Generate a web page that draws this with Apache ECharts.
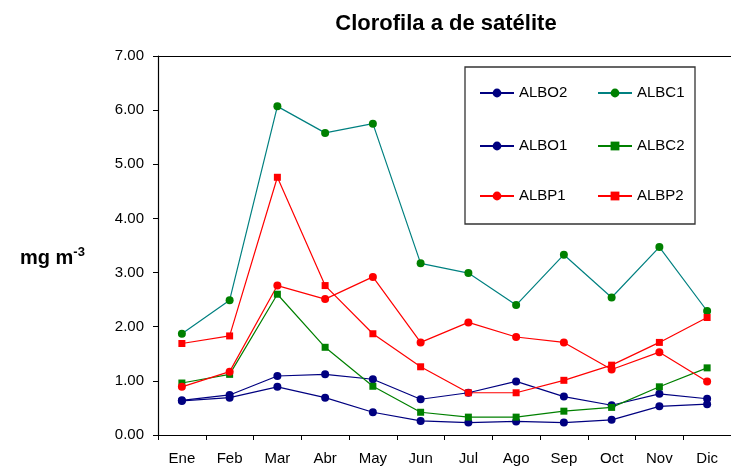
<!DOCTYPE html>
<html>
<head>
<meta charset="utf-8">
<script src="https://cdn.jsdelivr.net/npm/echarts@6/dist/echarts.min.js"></script>
<style>
html,body{margin:0;padding:0;background:#fff;}
#chart{width:731px;height:466px;}
</style>
</head>
<body>
<div id="chart"></div>
<script>
var months = ['Ene','Feb','Mar','Abr','May','Jun','Jul','Ago','Sep','Oct','Nov','Dic'];
var yTicks = [0,1,2,3,4,5,6,7];
var ALBO2 = [0.64,0.74,1.09,1.12,1.03,0.66,0.78,0.99,0.71,0.55,0.76,0.67];
var ALBO1 = [0.63,0.69,0.89,0.69,0.42,0.26,0.23,0.25,0.23,0.28,0.53,0.57];
var ALBC1 = [1.87,2.49,6.07,5.58,5.75,3.17,2.99,2.40,3.33,2.54,3.47,2.29];
var ALBC2 = [0.96,1.12,2.60,1.62,0.90,0.42,0.33,0.33,0.44,0.51,0.89,1.24];
var ALBP1 = [0.89,1.17,2.76,2.51,2.92,1.71,2.08,1.81,1.71,1.21,1.53,0.99];
var ALBP2 = [1.69,1.83,4.76,2.76,1.87,1.26,0.78,0.78,1.01,1.29,1.71,2.17];

var FONT = 'Liberation Sans, Arial, sans-serif';
var chart = echarts.init(document.getElementById('chart'), null, {renderer:'canvas'});

function mk(name, data, symbol, lineColor, markColor, size) {
  return {
    name: name, type: 'line', data: data, symbol: symbol, symbolSize: size,
    lineStyle: {color: lineColor, width: 1.2},
    itemStyle: {color: markColor},
    animation: false
  };
}
function legend(items, top) {
  return {
    data: items, left: 479, top: top, orient: 'horizontal',
    itemWidth: 34, itemHeight: 11, itemGap: 26, padding: 0,
    textStyle: {fontFamily: FONT, fontSize: 15, color: '#000', width: 52, lineHeight: 16}
  };
}

chart.setOption({
  backgroundColor: '#fff',
  animation: false,
  title: [
    {text: 'Clorofila a de satélite', left: 441, top: 8, textAlign: 'center',
     textStyle: {fontFamily: FONT, fontSize: 22, fontWeight: 'bold', color: '#000'}},
    {text: '{a|mg m}{b|-3}', left: 15, top: 241,
     textStyle: {rich: {
       a: {fontFamily: FONT, fontSize: 20, fontWeight: 'bold', color: '#000', lineHeight: 24},
       b: {fontFamily: FONT, fontSize: 13, fontWeight: 'bold', color: '#000', verticalAlign: 'top', lineHeight: 12}
     }}}
  ],
  legend: [legend(['ALBO2','ALBC1'], 85), legend(['ALBO1','ALBC2'], 138), legend(['ALBP1','ALBP2'], 188)],
  grid: {left: 158, top: 56, width: 580, height: 381, containLabel: false},
  xAxis: [{
    type: 'category', data: months, boundaryGap: true,
    axisLine: {lineStyle: {color: '#000', width: 1.2}},
    axisTick: {show: true, length: 5, lineStyle: {color: '#000'}},
    axisLabel: {fontFamily: FONT, fontSize: 15, color: '#000', margin: 16},
    splitLine: {show: false}
  }, {
    type: 'category', data: months, position: 'top',
    axisLine: {show: true, lineStyle: {color: '#000', width: 1.2}},
    axisTick: {show: false}, axisLabel: {show: false}, splitLine: {show: false}
  }],
  yAxis: {
    type: 'value', min: yTicks[0], max: yTicks[yTicks.length-1], interval: 1,
    axisLine: {show: true, lineStyle: {color: '#000', width: 1.2}},
    axisTick: {show: true, length: 5, lineStyle: {color: '#000'}},
    axisLabel: {fontFamily: FONT, fontSize: 15, color: '#000', margin: 14,
      formatter: function(v){ return v.toFixed(2); }},
    splitLine: {show: false}
  },
  graphic: [{
    type: 'rect', shape: {x: 465, y: 67, width: 230, height: 157},
    style: {fill: 'none', stroke: '#333', lineWidth: 1.3}, z: 100
  }],
  series: [
    mk('ALBO2', ALBO2, 'circle', '#000080', '#000080', 8),
    mk('ALBO1', ALBO1, 'circle', '#000080', '#000080', 8),
    mk('ALBC1', ALBC1, 'circle', '#008080', '#008000', 8),
    mk('ALBC2', ALBC2, 'rect', '#008000', '#008000', 7),
    mk('ALBP1', ALBP1, 'circle', '#FF0000', '#FF0000', 8),
    mk('ALBP2', ALBP2, 'rect', '#FF0000', '#FF0000', 7)
  ]
});
</script>
</body>
</html>
